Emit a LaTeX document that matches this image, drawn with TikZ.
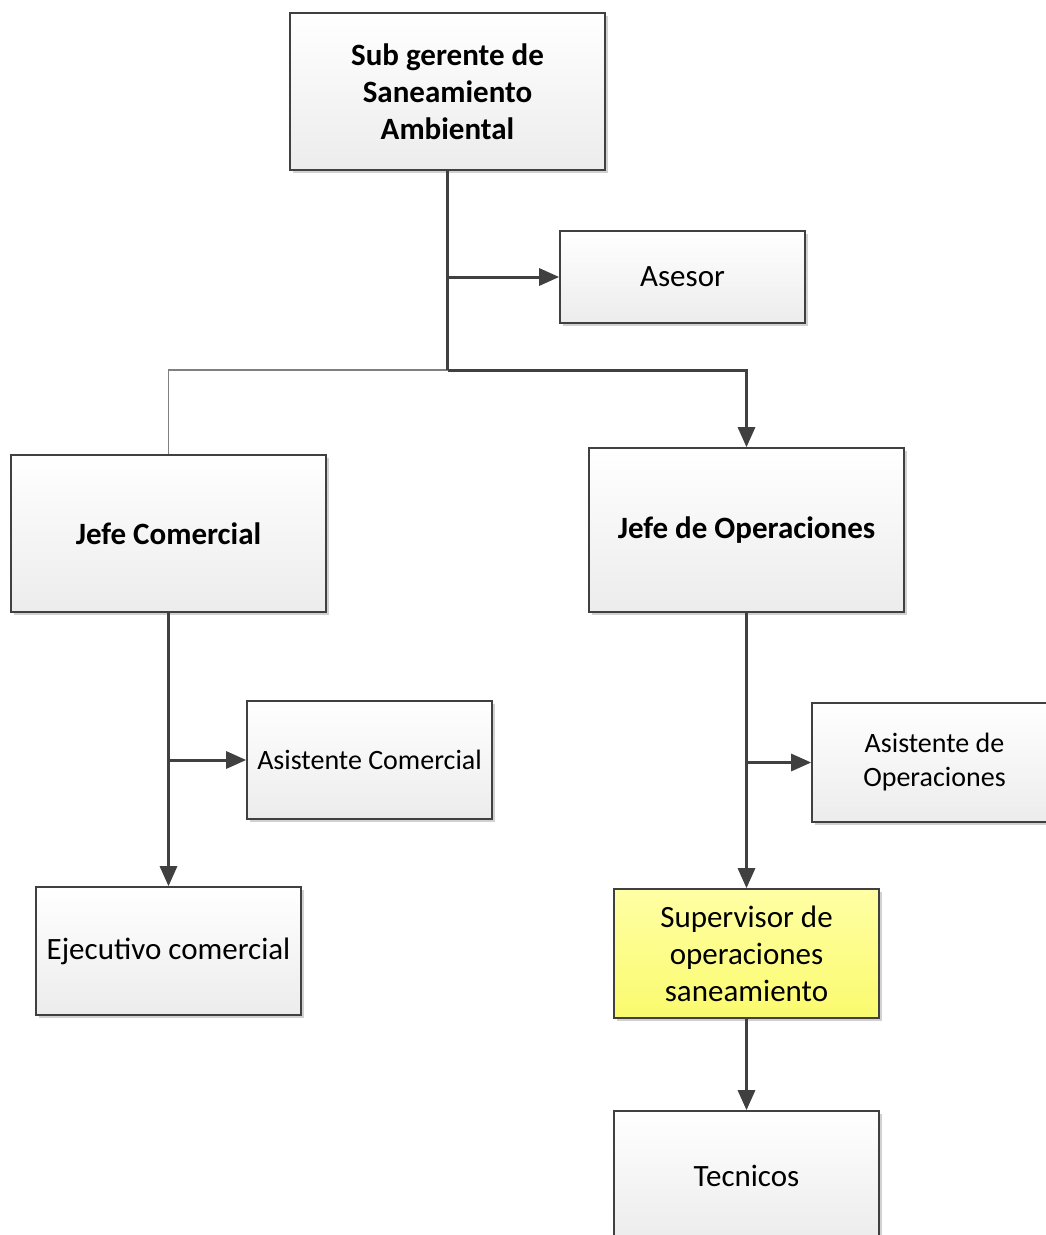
\documentclass[tikz,border=0pt]{standalone}
\usepackage{fontspec}
\setmainfont{Carlito}
\usetikzlibrary{arrows.meta,shadows}
\definecolor{linegray}{RGB}{64,64,64}
\definecolor{boxbottom}{RGB}{236,236,236}
\definecolor{supertop}{RGB}{255,255,165}
\definecolor{superbottom}{RGB}{250,250,110}

\tikzset{
  box/.style={draw=linegray, line width=1.6pt, top color=white, bottom color=boxbottom,
    drop shadow={shadow xshift=3pt, shadow yshift=-3pt, fill=black, opacity=.18},
    align=center, inner sep=0pt, font=\fontsize{31}{37}\selectfont},
  smallbox/.style={box, font=\fontsize{28}{34}\selectfont},
  bossbox/.style={box, font=\fontsize{31}{37}\selectfont\bfseries},
  hilite/.style={box, top color=supertop, bottom color=superbottom},
  conn/.style={draw=linegray, line width=3pt},
  weakconn/.style={draw=gray, line width=1.6pt},
}

\begin{document}
\begin{tikzpicture}[x=1pt, y=-1pt, >={Triangle[length=20pt,width=17pt]}]
    \useasboundingbox (0,0) rectangle (1045,1235);
    % cajas
    \node[bossbox, minimum width=315pt, minimum height=157pt] (sub) at (447.5,91.5) {Sub gerente de\\Saneamiento\\Ambiental};
    \node[box, minimum width=245pt, minimum height=92pt] (ase) at (682.5,277) {Asesor};
    \node[bossbox, minimum width=315pt, minimum height=157pt] (jcom) at (168.5,533.5) {Jefe Comercial};
    \node[bossbox, minimum width=315pt, minimum height=164pt] (jops) at (746.5,530) {Jefe de Operaciones};
    \node[smallbox, minimum width=245pt, minimum height=118pt] (acom) at (369.5,760) {Asistente Comercial};
    \node[smallbox, minimum width=245pt, minimum height=119pt] (aops) at (934.5,762.5) {Asistente de\\Operaciones};
    \node[box, minimum width=265pt, minimum height=128pt] (ejec) at (168.5,951) {Ejecutivo comercial};
    \node[hilite, minimum width=265pt, minimum height=129pt] (sup) at (746.5,953.5) {Supervisor de\\operaciones\\saneamiento};
    \node[box, minimum width=265pt, minimum height=129pt] (tec) at (746.5,1175.5) {Tecnicos};
    % conectores
    \coordinate (jn) at (447.5,370);
    \draw[weakconn] (jn) -| (jcom.north);
    \draw[conn] (sub.south) -- (jn);
    \draw[conn,->] (sub.south |- ase.west) -- (ase.west);
    \draw[conn,->] (jn) -| (jops.north);
    \draw[conn,->] (jcom.south) -- (ejec.north);
    \draw[conn,->] (jcom.south |- acom.west) -- (acom.west);
    \draw[conn,->] (jops.south) -- (sup.north);
    \draw[conn,->] (jops.south |- aops.west) -- (aops.west);
    \draw[conn,->] (sup.south) -- (tec.north);
\end{tikzpicture}
\end{document}
